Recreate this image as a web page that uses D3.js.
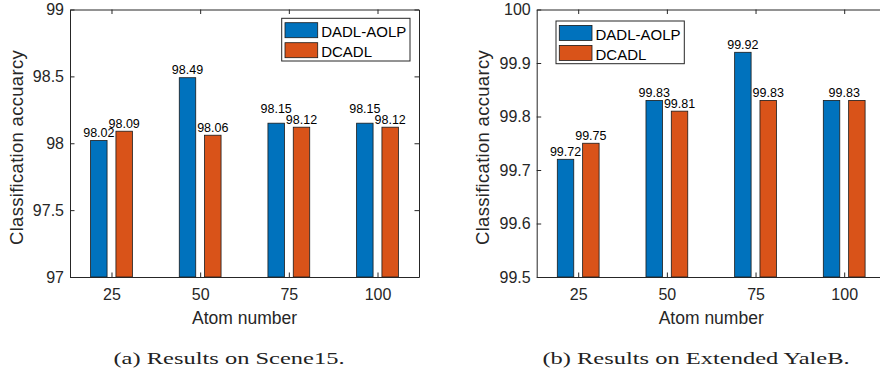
<!DOCTYPE html>
<html>
<head>
<meta charset="utf-8">
<script src="https://cdn.jsdelivr.net/npm/d3@7"></script>
<style>
  body { margin: 0; background: white; }
  svg { display: block; }
</style>
</head>
<body>
<script>
// Values
const atoms = [25, 50, 75, 100];
const seriesNames = ["DADL-AOLP", "DCADL"];
const seriesColors = ["#0072BD", "#D95319"];

const scene15Aolp = [98.02, 98.49, 98.15, 98.15];
const scene15Dcadl = [98.09, 98.06, 98.12, 98.12];
const scene15Ticks = [97, 97.5, 98, 98.5, 99];

const yaleAolp = [99.72, 99.83, 99.92, 99.83];
const yaleDcadl = [99.75, 99.81, 99.83, 99.83];
const yaleTicks = [99.5, 99.6, 99.7, 99.8, 99.9, 100];

const yLabel = "Classification accuarcy";
const xLabel = "Atom number";

const outerWidth = 880;
const outerHeight = 371;
const sans = "'Liberation Sans', Arial, Helvetica, sans-serif";
const axisColor = "#262626";

const svg = d3.select("body").append("svg")
    .attr("width", outerWidth)
    .attr("height", outerHeight)
    .style("background", "white");

// axes box: same size in both panels
const plotW = 349, plotTop = 9.5, plotBottom = 277;

let draw = (opts) => {
    const left = opts.left;
    const xScale = d3.scaleLinear()
        .domain([13.3, 111.7])
        .range([left, left + plotW]);
    const yScale = d3.scaleLinear()
        .domain([opts.ticks[0], opts.ticks[opts.ticks.length - 1]])
        .range([plotBottom, plotTop]);

    // bar placement in data units (grouped bars)
    const shift = 3.57, barW = 4.64;
    const rows = [];
    atoms.forEach((a, i) => {
        opts.series.forEach((s, k) => {
            rows.push({atom: a, k: k, value: s[i]});
        });
    });

    const g = svg.append("g");

    g.selectAll(".bar")
        .data(rows)
        .join("rect")
        .attr("class", "bar")
        .attr("x", d => xScale(d.atom + (d.k === 0 ? -shift : shift) - barW / 2))
        .attr("width", d => xScale(barW) - xScale(0))
        .attr("y", d => yScale(d.value))
        .attr("height", d => yScale(opts.ticks[0]) - yScale(d.value))
        .attr("fill", d => seriesColors[d.k])
        .attr("stroke", "#1a1a1a")
        .attr("stroke-width", 0.8);

    // value labels: one centred label when both bars are equal,
    // the taller one is lifted when the two would collide
    const labels = [];
    atoms.forEach((a, i) => {
        const v0 = opts.series[0][i], v1 = opts.series[1][i];
        if (v0 === v1) {
            labels.push({x: a, value: v0, y: yScale(v0) - 3.5});
        } else {
            const l0 = {x: a - shift, value: v0, y: yScale(v0) - 3.5};
            const l1 = {x: a + shift, value: v1, y: yScale(v1) - 3.5};
            if (Math.abs(l0.y - l1.y) < 9) {
                if (l0.y < l1.y) l0.y = l1.y - 10.7;
                else l1.y = l0.y - 10.7;
            }
            labels.push(l0, l1);
        }
    });
    g.selectAll(".vlabel")
        .data(labels)
        .join("text")
        .attr("class", "vlabel")
        .attr("x", d => xScale(d.x))
        .attr("y", d => d.y)
        .attr("text-anchor", "middle")
        .style("font-family", sans)
        .style("font-size", "12.5px")
        .style("fill", "#000")
        .text(d => d3.format(".2f")(d.value));

    // axes (ticks point inwards, box on)
    const xAxis = d3.axisBottom(xScale).tickValues(atoms).tickSizeInner(-4.5).tickSizeOuter(0).tickPadding(11.5);
    const xTop = d3.axisTop(xScale).tickValues(atoms).tickSizeInner(-4.5).tickSizeOuter(0).tickFormat("");
    const yAxis = d3.axisLeft(yScale).tickValues(opts.ticks).tickSizeInner(-4.5).tickSizeOuter(0).tickPadding(6)
        .tickFormat(d => String(+d.toFixed(1)));
    const yRight = d3.axisRight(yScale).tickValues(opts.ticks).tickSizeInner(-4.5).tickSizeOuter(0).tickFormat("");

    const xg = g.append("g").attr("transform", `translate(0, ${plotBottom})`).call(xAxis);
    const xtg = g.append("g").attr("transform", `translate(0, ${plotTop})`).call(xTop);
    const yg = g.append("g").attr("transform", `translate(${left}, 0)`).call(yAxis);
    const yrg = g.append("g").attr("transform", `translate(${left + plotW}, 0)`).call(yRight);

    [xg, xtg, yg, yrg].forEach(ax => {
        ax.select(".domain").attr("stroke", axisColor).attr("stroke-width", 1);
        ax.selectAll(".tick line").attr("stroke", axisColor).attr("stroke-width", 1);
        ax.selectAll("text")
            .style("font-family", sans)
            .style("font-size", "16px")
            .style("fill", axisColor);
    });

    // axis titles
    g.append("text")
        .text(xLabel)
        .attr("x", left + plotW / 2)
        .attr("y", 324)
        .attr("text-anchor", "middle")
        .style("font-family", sans)
        .style("font-size", "17.5px")
        .style("fill", axisColor);

    g.append("text")
        .text(yLabel)
        .attr("text-anchor", "middle")
        .attr("transform", `translate(${left - 47.5}, 147.5) rotate(-90)`)
        .style("font-family", sans)
        .style("font-size", "18.5px")
        .style("letter-spacing", "0.3px")
        .style("fill", axisColor);

    // legend
    const lg = g.append("g").attr("transform", `translate(${opts.legendX}, ${opts.legendY})`);
    lg.append("rect")
        .attr("width", 128.3)
        .attr("height", 42.7)
        .attr("fill", "white")
        .attr("stroke", axisColor)
        .attr("stroke-width", 1);
    seriesNames.forEach((name, k) => {
        lg.append("rect")
            .attr("x", 3.3)
            .attr("y", 4.4 + k * 20)
            .attr("width", 32.7)
            .attr("height", 15)
            .attr("fill", seriesColors[k])
            .attr("stroke", "#1a1a1a")
            .attr("stroke-width", 0.8);
        lg.append("text")
            .text(name)
            .attr("x", 39.5)
            .attr("y", 18.9 + k * 20)
            .style("font-family", sans)
            .style("font-size", "15px")
            .style("fill", "#000");
    });

    // caption underneath (LaTeX-style serif, set wide)
    g.append("text")
        .text(opts.caption)
        .attr("text-anchor", "middle")
        .attr("transform", `translate(${opts.captionX}, 364) scale(1.4, 1)`)
        .style("font-family", "'Liberation Serif', 'Times New Roman', serif")
        .style("font-size", "17.5px")
        .style("fill", "#222");
};

draw({
    left: 70,
    ticks: scene15Ticks,
    series: [scene15Aolp, scene15Dcadl],
    legendX: 281.7, legendY: 18.3,
    caption: "(a) Results on Scene15.",
    captionX: 229
});

draw({
    left: 536.7,
    ticks: yaleTicks,
    series: [yaleAolp, yaleDcadl],
    legendX: 556, legendY: 21,
    caption: "(b) Results on Extended YaleB.",
    captionX: 696
});
</script>
</body>
</html>
